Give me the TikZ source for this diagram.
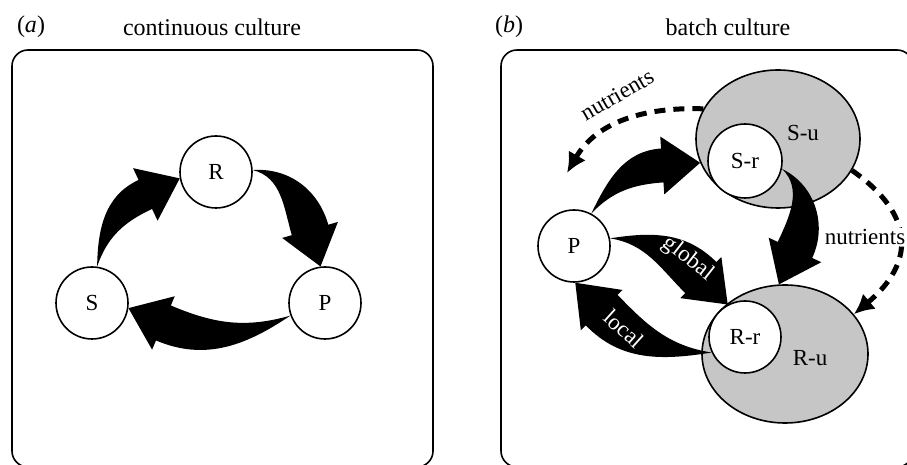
\documentclass[tikz,border=0pt]{standalone}
\usepackage{fontspec}
\setmainfont{Liberation Serif}
\usetikzlibrary{calc,arrows.meta,shapes.geometric}
\pgfdeclarelayer{bg}
\pgfsetlayers{bg,main}
\tikzset{
    txt/.style={inner sep=0pt, font=\fontsize{23pt}{26pt}\selectfont},
    cell/.style={circle, draw, line width=1.6pt, fill=white, minimum size=72pt, inner sep=0pt, txt},
    pool/.style={ellipse, draw, line width=1.6pt, fill=gray!45, inner sep=0pt},
    frame/.style={draw, line width=1.6pt, rounded corners=16pt},
    nutflow/.style={line width=5pt, dash pattern=on 11pt off 8pt, -{Latex[length=20pt,width=20pt]}}
}
\newcommand{\headlen}{38pt}
\newcommand{\headwd}{29pt}
% fat tapered arrow: start, tip, out angle, head direction, shaft half width
\newcommand{\fatarrow}[5]{%
    \pgfmathsetmacro{\fatback}{#4+180}%
    \pgfmathsetmacro{\fatleft}{#4+90}%
    \pgfmathsetmacro{\fatright}{#4-90}%
    \pgfmathsetmacro{\fatoutl}{#3+9}%
    \pgfmathsetmacro{\fatoutr}{#3-9}%
    \fill (#1) to[out=\fatoutl,in=\fatback] ($(#2)+(\fatback:\headlen)+(\fatleft:#5)$)
        -- ($(#2)+(\fatback:\headlen)+(\fatleft:\headwd)$) -- (#2)
        -- ($(#2)+(\fatback:\headlen)+(\fatright:\headwd)$)
        -- ($(#2)+(\fatback:\headlen)+(\fatright:#5)$) to[out=\fatback,in=\fatoutr] (#1) -- cycle;}

\begin{document}
\begin{tikzpicture}[x=1pt,y=1pt]
        \path[use as bounding box, clip] (0,0) rectangle (907,465);
        % titles
        \node (ta) [txt, font=\fontsize{24pt}{26pt}\selectfont] at (31,438) {(\textit{a})};
        \node (tca) [txt, font=\fontsize{24pt}{26pt}\selectfont] at (212,438) {continuous culture};
        \node (tb) [txt, font=\fontsize{24pt}{26pt}\selectfont] at (509,438) {(\textit{b})};
        \node (tcb) [txt, font=\fontsize{24pt}{26pt}\selectfont] at (728,438) {batch culture};
        \draw[frame] (12,-2) rectangle (433,415);
        \draw[frame] (501,-2) rectangle (913,415);
        % panel a
        \node (ra) [cell] at (216,293) {R};
        \node (sa) [cell] at (92,162) {S};
        \node (pa) [cell] at (325,162) {P};
        \fatarrow{sa.82}{ra.190}{80}{25}{16pt}
        \fatarrow{ra.3}{pa.97}{-5}{-74}{19pt}
        \fatarrow{pa.200}{sa.352}{205}{157}{19pt}
        % panel b
        \begin{pgfonlayer}{bg}
                \node (su) [pool, minimum width=164pt, minimum height=138pt] at (778,326) {};
                \node (ru) [pool, minimum width=166pt, minimum height=138pt] at (785,111) {};
        \end{pgfonlayer}
        \node (sutxt) [txt] at (803,332) {S-u};
        \node (rutxt) [txt] at (810,107) {R-u};
        \node (sr) [cell, minimum size=74pt] at (745,304) {S-r};
        \node (rr) [cell] at (745,128) {R-r};
        \node (pb) [cell] at (574,219) {P};
        \fatarrow{pb.62}{su.197}{55}{4}{17pt}
        \fatarrow{sr.348}{ru.95}{-35}{-115}{19pt}
        \fatarrow{pb.12}{rr.118}{0}{-45}{22pt}
        \fatarrow{rr.205}{pb.272}{180}{134}{22pt}
        \node (glob) [txt, text=white, rotate=-38] at (688,206) {global};
        \node (loc) [txt, text=white, rotate=-42] at (624,136) {local};
        % nutrient flows
        \coordinate (nutend) at (567,292);
        \draw[nutflow] (su.158) to[out=178,in=60] (nutend);
        \draw[nutflow] (su.337) to[out=-35,in=40,looseness=1.4] (ru.30);
        \node (nut1) [txt, rotate=30] at (617,370) {nutrients};
        \node (nut2) [txt, fill=white, inner sep=1pt] at (865,228) {nutrients};
\end{tikzpicture}
\end{document}
